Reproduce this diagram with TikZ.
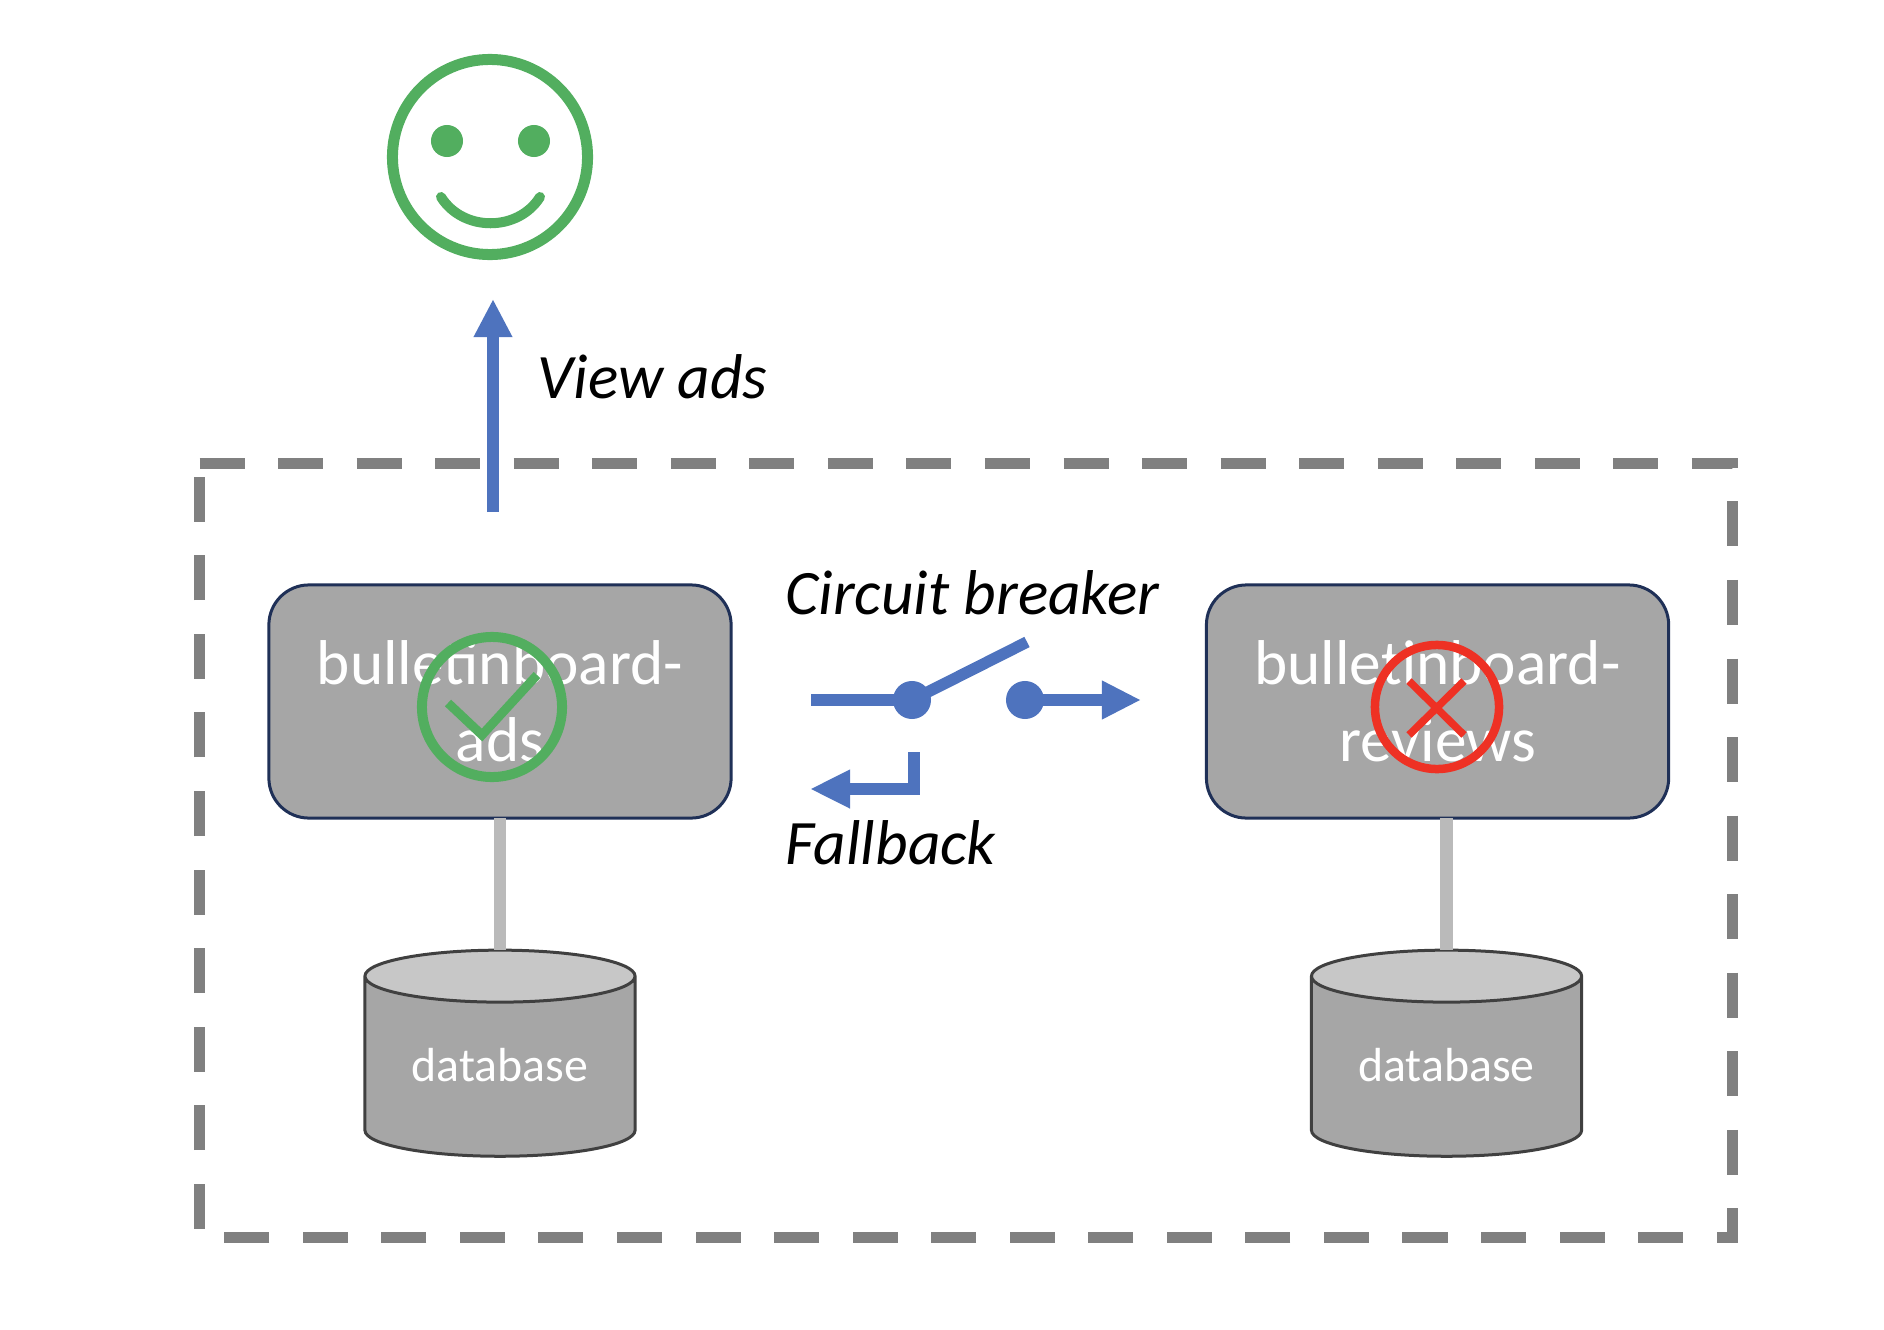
\documentclass[tikz,border=0pt]{standalone}
\usepackage{fontspec}
\setmainfont{Carlito}
\usetikzlibrary{shapes.geometric,arrows.meta,positioning}
\definecolor{flowblue}{HTML}{4E73BE}
\definecolor{okgreen}{HTML}{52AE5F}
\definecolor{failred}{HTML}{EE3124}
\definecolor{boxgray}{HTML}{A6A6A6}
\definecolor{boxedge}{HTML}{1F3057}

\begin{document}
\begin{tikzpicture}[
    x=0.01cm, y=-0.01cm,
    node distance=1.32cm and 4.75cm,
    service/.style={rectangle, draw=boxedge, line width=0.03cm, fill=boxgray, rounded corners=0.4cm, minimum width=4.62cm, minimum height=2.33cm, align=center, text=white, outer sep=0pt, font=\fontsize{18}{21.8}\selectfont},
    store/.style={cylinder, shape border rotate=90, aspect=0.26, draw=black!75, line width=0.03cm, cylinder uses custom fill, cylinder body fill=boxgray, cylinder end fill=black!22, minimum width=2.7cm, minimum height=2.06cm, text=white, outer sep=0pt, text depth=0.14cm, font=\fontsize{13.6}{16}\selectfont},
    status/.style={circle, draw, line width=0.1cm, minimum size=1.4cm, inner sep=0pt},
    flow/.style={-{Triangle[length=0.39cm, width=0.36cm]}, flowblue, line width=0.12cm},
    wire/.style={flowblue, line width=0.12cm},
    pole/.style={circle, fill=flowblue, minimum size=0.38cm, inner sep=0pt},
    link/.style={black!27, line width=0.125cm},
    caption/.style={font=\fontsize{18}{22}\selectfont\itshape, inner sep=0pt, anchor=base west},
    eye/.style={circle, fill=okgreen, minimum size=0.32cm, inner sep=0pt}
]
    \useasboundingbox (0,0) rectangle (1884,1330);

    \draw[gray, line width=0.11cm, dash pattern=on 0.45cm off 0.335cm] (199.5,463.5) -- (1732.5,463.5) -- (1732.5,1237.5) -- (199.5,1237.5) -- cycle;

    \node[service] (ads) at (500,701.5) {bulletinboard-\\ads};
    \node[service, right=of ads] (reviews) {bulletinboard-\\reviews};
    \node[store, below=of ads] (adsdb) {database};
    \node[store, below=of reviews, xshift=0.09cm] (reviewsdb) {database};

    \draw[link] (ads.south) -- (adsdb.north);
    \draw[link] (reviewsdb.north |- reviews.south) -- (reviewsdb.north);

    \node[status, draw=okgreen] (okmark) at (492,707) {};
    \draw[okgreen, line width=0.09cm] (448,703) -- (482,735) -- (537,675);
    \node[status, draw=failred, minimum size=1.24cm, line width=0.085cm] (failmark) at (1437,707) {};
    \draw[failred, line width=0.075cm] (1409,681) -- (1464,735) (1409,735) -- (1464,681);

    \node[circle, draw=okgreen, line width=0.11cm, minimum size=1.95cm, inner sep=0pt] (face) at (490,157) {};
    \node[eye] (lefteye) at (447,141) {};
    \node[eye] (righteye) at (534,141) {};
    \draw[okgreen, line width=0.1cm, line cap=round] (441,197) .. controls (463,232) and (518,232) .. (540,197);

    \coordinate (viewstart) at (493,512);
    \coordinate (viewend) at (493,299);
    \draw[flow, -{Triangle[length=0.38cm, width=0.36cm]}] (viewstart) -- (viewend);
    \node[caption] (viewlabel) at (537,398) {View ads};

    \node[pole] (inpole) at (912,700) {};
    \node[pole] (outpole) at (1025,700) {};
    \coordinate (feed) at (811,700);
    \coordinate (lever) at (1027,642);
    \coordinate (outtip) at (1141,700);
    \draw[wire] (feed) -- (inpole.center);
    \draw[wire, line width=0.115cm] (inpole.center) -- (lever);
    \draw[flow] (outpole.center) -- (outtip);
    \node[caption] (breakerlabel) at (785,614) {Circuit breaker};

    \coordinate (fallstart) at (914,752);
    \coordinate (fallcorner) at (914,789);
    \coordinate (falltip) at (810,789);
    \draw[flow, -{Triangle[length=0.4cm, width=0.36cm]}, line join=miter] (fallstart) -- (fallcorner) -- (falltip);
    \node[caption] (falllabel) at (785,864) {Fallback};
\end{tikzpicture}
\end{document}
